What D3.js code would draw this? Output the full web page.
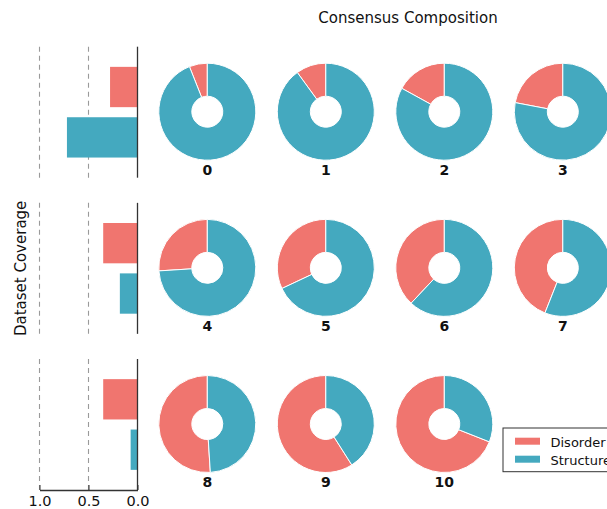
<!DOCTYPE html>
<html>
<head>
<meta charset="utf-8">
<script src="https://cdn.jsdelivr.net/npm/d3@7"></script>
<style>
  body { margin: 0; background: #fff; }
  text { font-family: "DejaVu Sans", sans-serif; fill: #111; }
</style>
</head>
<body>
<svg id="chart" width="607" height="509"></svg>
<script>
// Consensus clusters and their composition (share of disorder vs structure)
const clusters = ["0", "1", "2", "3", "4", "5", "6", "7", "8", "9", "10"];
const disorderShare  = [0.06, 0.10, 0.17, 0.22, 0.26, 0.32, 0.38, 0.44, 0.51, 0.59, 0.69];
const structureShare = [0.94, 0.90, 0.83, 0.78, 0.74, 0.68, 0.62, 0.56, 0.49, 0.41, 0.31];

// Dataset coverage per row of clusters
const classes = ["Disorder", "Structure"];
const disorderCoverage  = [0.28, 0.35, 0.35];
const structureCoverage = [0.72, 0.18, 0.07];
const coverageTicks = [1.0, 0.5, 0.0];

const colors = { Disorder: "#F0756F", Structure: "#44A9BF" };

const svg = d3.select("#chart");
svg.append("rect").attr("width", 607).attr("height", 509).attr("fill", "#fff");

const nRows = 3, nCols = 4, rowHeight = 131;
const rowTop = d3.scaleLinear().domain([0, nRows - 1]).range([46.7, 359]);
const colX = d3.scaleLinear().domain([0, nCols - 1]).range([207.3, 562.8]);

// ---- left panel: coverage bars (reversed x axis) ----
const x = d3.scaleLinear().domain([0, 1]).range([137.5, 39.5]);

for (let r = 0; r < nRows; r++) {
  const top = rowTop(r);
  const y = d3.scaleBand().domain(classes).range([top, top + rowHeight])
    .paddingInner(0.2).paddingOuter(0.4);
  const g = svg.append("g");

  // dashed gridlines
  g.selectAll("line.grid").data(coverageTicks.filter(t => t > 0)).join("line")
    .attr("x1", d => x(d)).attr("x2", d => x(d))
    .attr("y1", top).attr("y2", top + rowHeight)
    .attr("stroke", "#9a9a9a").attr("stroke-width", 1.1)
    .attr("stroke-dasharray", "5,4");

  const vals = [disorderCoverage[r], structureCoverage[r]];
  g.selectAll("rect.bar").data(classes).join("rect")
    .attr("x", (d, i) => x(vals[i]))
    .attr("width", (d, i) => x(0) - x(vals[i]))
    .attr("y", d => y(d))
    .attr("height", y.bandwidth())
    .attr("fill", d => colors[d]);

  // spine at zero
  g.append("line")
    .attr("x1", x(0)).attr("x2", x(0))
    .attr("y1", top).attr("y2", top + rowHeight)
    .attr("stroke", "#333").attr("stroke-width", 1.3);

  if (r === nRows - 1) {
    const axis = d3.axisBottom(x).tickValues(coverageTicks)
      .tickFormat(d3.format(".1f")).tickSizeInner(-5).tickSizeOuter(0).tickPadding(5.5);
    const ag = g.append("g").attr("transform", `translate(0,${top + rowHeight})`).call(axis);
    ag.select(".domain").attr("stroke", "#333").attr("stroke-width", 1.3);
    ag.selectAll(".tick line").attr("stroke", "#333");
    ag.selectAll(".tick text")
      .attr("font-family", "DejaVu Sans, sans-serif")
      .attr("font-size", 14.5).attr("fill", "#111");
  }
}

svg.append("text")
  .attr("transform", `translate(26,${rowTop(1) + rowHeight / 2}) rotate(-90)`)
  .attr("text-anchor", "middle")
  .attr("font-size", 15)
  .text("Dataset Coverage");

// ---- right panel: composition donuts ----
const outerR = 48.5, innerR = 15.5;
const pie = d3.pie().sort(null).value(d => d.v).startAngle(0).endAngle(-2 * Math.PI);
const arc = d3.arc().innerRadius(innerR).outerRadius(outerR);

clusters.forEach((c, i) => {
  const r = Math.floor(i / nCols), col = i % nCols;
  const cx = colX(col), cy = rowTop(r) + 65;
  const g = svg.append("g").attr("transform", `translate(${cx},${cy})`);
  const parts = [
    { k: "Disorder", v: disorderShare[i] },
    { k: "Structure", v: structureShare[i] }
  ];
  g.selectAll("path").data(pie(parts)).join("path")
    .attr("d", arc)
    .attr("fill", d => colors[d.data.k])
    .attr("stroke", "#fff").attr("stroke-width", 1);
  g.append("text")
    .attr("y", 63)
    .attr("text-anchor", "middle")
    .attr("font-size", 14).attr("font-weight", "bold")
    .text(c);
});

svg.append("text")
  .attr("x", 408).attr("y", 23)
  .attr("text-anchor", "middle")
  .attr("font-size", 15)
  .text("Consensus Composition");

// ---- legend ----
const lg = svg.append("g").attr("transform", "translate(503,428)");
lg.append("rect").attr("width", 120).attr("height", 43.7)
  .attr("fill", "#fff").attr("stroke", "#333").attr("stroke-width", 1);
classes.forEach((k, i) => {
  lg.append("rect").attr("x", 12).attr("y", 9.7 + i * 18).attr("width", 25).attr("height", 7)
    .attr("fill", colors[k]);
  lg.append("text").attr("x", 47.5).attr("y", 18.5 + i * 18)
    .attr("font-size", 13).text(k);
});
</script>
</body>
</html>
